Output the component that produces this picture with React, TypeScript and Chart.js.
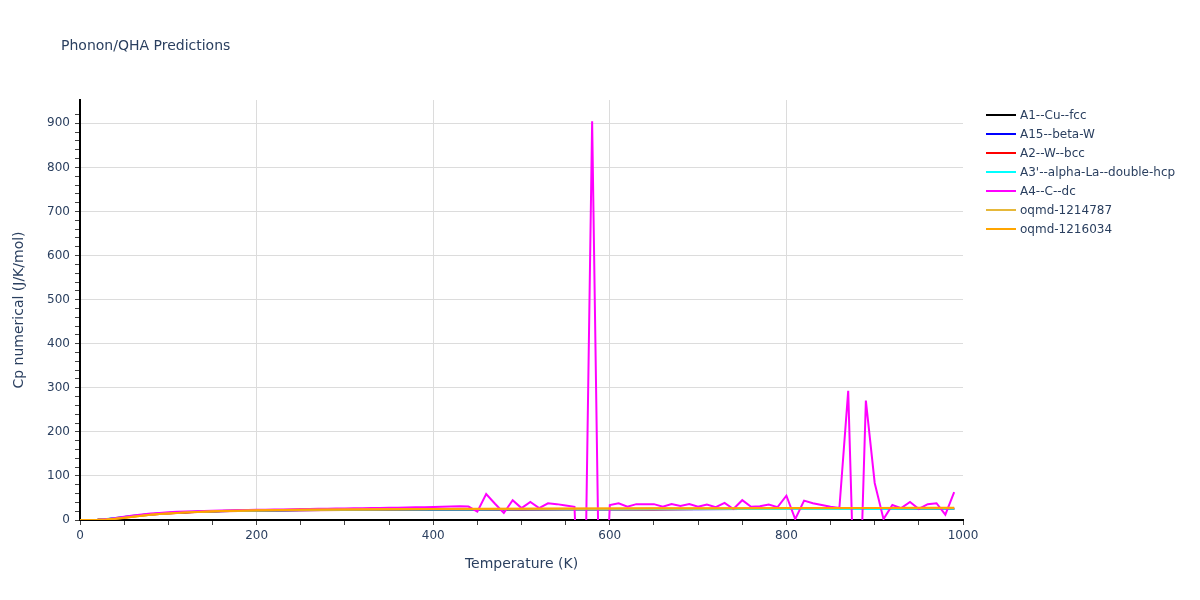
import React, { useEffect, useRef } from "react";
import { Chart, registerables } from "chart.js";

Chart.register(...registerables);

const chartTitle = "Phonon/QHA Predictions";
const xTitle = "Temperature (K)";
const yTitle = "Cp numerical (J/K/mol)";

const seriesNames = [
  "A1--Cu--fcc",
  "A15--beta-W",
  "A2--W--bcc",
  "A3'--alpha-La--double-hcp",
  "A4--C--dc",
  "oqmd-1214787",
  "oqmd-1216034",
];
const seriesColors = ["#000000", "#0000ff", "#ff0000", "#00ffff", "#ff00ff", "#e6b83a", "#ffa500"];

const smoothTemps = [0, 10, 20, 30, 40, 50, 60, 70, 80, 90, 100, 120, 140, 160, 180, 200, 250, 300, 350, 400, 450, 500, 550, 600, 650, 700, 750, 800, 850, 900, 950, 990];

const cuFcc = [0, 0.1, 0.6, 1.9, 4.1, 6.6, 9.0, 11.2, 13.0, 14.5, 15.8, 17.8, 19.2, 20.2, 20.9, 21.5, 22.5, 23.1, 23.5, 23.8, 24.0, 24.2, 24.4, 24.5, 24.6, 24.7, 24.8, 24.9, 25.0, 25.1, 25.2, 25.3];
const betaW = [0, 0.1, 0.5, 1.6, 3.6, 6.0, 8.4, 10.6, 12.5, 14.1, 15.4, 17.5, 19.0, 20.0, 20.8, 21.4, 22.4, 23.0, 23.4, 23.7, 23.9, 24.1, 24.3, 24.4, 24.5, 24.6, 24.7, 24.8, 24.9, 25.0, 25.1, 25.2];
const wBcc = [0, 0.1, 0.4, 1.4, 3.2, 5.5, 7.9, 10.2, 12.1, 13.7, 15.0, 17.2, 18.8, 19.9, 20.7, 21.3, 22.3, 22.9, 23.3, 23.6, 23.9, 24.1, 24.3, 24.4, 24.6, 24.7, 24.8, 24.9, 25.0, 25.1, 25.2, 25.3];
const laDhcp = [0, 0.1, 0.7, 2.1, 4.4, 7.0, 9.4, 11.5, 13.3, 14.8, 16.0, 18.0, 19.3, 20.3, 21.0, 21.6, 22.6, 23.2, 23.6, 23.9, 24.1, 24.3, 24.5, 24.6, 24.7, 24.8, 24.9, 25.0, 25.1, 25.2, 25.3, 25.4];
const oqmd1214787 = [0, 0.05, 0.3, 1.1, 2.8, 5.0, 7.5, 9.8, 11.9, 13.6, 15.0, 17.3, 19.0, 20.2, 21.1, 21.8, 23.0, 23.8, 24.3, 24.8, 25.1, 25.4, 25.7, 25.9, 26.1, 26.3, 26.5, 26.7, 26.9, 27.1, 27.3, 27.5];
const oqmd1216034 = [0, 0.05, 0.3, 1.0, 2.6, 4.8, 7.2, 9.6, 11.7, 13.5, 15.0, 17.3, 19.0, 20.3, 21.2, 21.9, 23.1, 23.9, 24.5, 25.0, 25.3, 25.6, 25.9, 26.1, 26.4, 26.6, 26.8, 27.0, 27.2, 27.4, 27.6, 27.8];

const dcTemps = [
  0, 10, 20, 30, 40, 50, 60, 70, 80, 90,
  100, 110, 120, 130, 140, 150, 160, 170, 180, 190,
  200, 210, 220, 230, 240, 250, 260, 270, 280, 290,
  300, 310, 320, 330, 340, 350, 360, 370, 380, 390,
  400, 410, 420, 430, 440, 450, 460, 470, 480, 490,
  500, 510, 520, 530, 540, 550, 560, 570, 580, 590,
  600, 610, 620, 630, 640, 650, 660, 670, 680, 690,
  700, 710, 720, 730, 740, 750, 760, 770, 780, 790,
  800, 810, 820, 830, 840, 850, 860, 870, 880, 890,
  900, 910, 920, 930, 940, 950, 960, 970, 980, 990,
];
const cDc = [
  0, 0.1, 0.6, 2.0, 4.5, 7.5, 10.2, 12.5, 14.5, 16.0,
  17.4, 18.5, 19.4, 20.1, 20.7, 21.2, 21.7, 22.1, 22.5, 22.9,
  23.2, 23.5, 23.8, 24.1, 24.4, 24.7, 25.0, 25.3, 25.6, 25.9,
  26.2, 26.5, 26.8, 27.1, 27.4, 27.7, 28.0, 28.3, 28.7, 29.1,
  29.5, 30.0, 30.5, 31.0, 30.5, 19, 59, 37, 16, 45,
  27, 41, 27, 38, 36, 33, 30, -450, 905, -450,
  34, 38, 30, 36, 36, 36, 30, 36, 32, 36,
  30, 35, 29, 39, 25, 45, 30, 31, 35, 29,
  55, 2, 44, 38, 34, 30, 27, 293, -400, 271,
  84, 2, 34, 27, 41, 25, 36, 38, 12, 63,
];

const xTicks = [0, 200, 400, 600, 800, 1000];
const yTicks = [0, 100, 200, 300, 400, 500, 600, 700, 800, 900];

const FONT = "'DejaVu Sans', Verdana, sans-serif";
const TEXT = "#2a3f5f";

function pts(xs: number[], ys: number[]) {
  return xs.map((x, i) => ({ x, y: ys[i] }));
}

export default function App() {
  const ref = useRef<HTMLCanvasElement | null>(null);

  useEffect(() => {
    document.body.style.margin = "0";
    const values = [cuFcc, betaW, wBcc, laDhcp, cDc, oqmd1214787, oqmd1216034];
    const datasets = seriesNames.map((name, i) => ({
      label: name,
      data: i === 4 ? pts(dcTemps, cDc) : pts(smoothTemps, values[i]),
      borderColor: seriesColors[i],
      backgroundColor: seriesColors[i],
      borderWidth: 2,
      pointRadius: 0,
      tension: 0,
      fill: false,
      order: seriesNames.length - i,
    }));
    const chart = new Chart(ref.current as HTMLCanvasElement, {
      type: "line",
      data: { datasets },
      options: {
        animation: false,
        responsive: false,
        maintainAspectRatio: false,
        layout: { padding: { left: 0, top: 100, right: 237, bottom: 0 } },
        plugins: { legend: { display: false }, title: { display: false }, tooltip: { enabled: false } },
        scales: {
          x: {
            type: "linear",
            min: 0,
            max: 1000,
            afterFit: (s: any) => { s.height = 80; },
            ticks: {
              stepSize: 50,
              autoSkip: false,
              maxRotation: 0,
              padding: 4,
              color: TEXT,
              font: { family: FONT, size: 12 },
              callback: (v: any) => (xTicks.includes(Number(v)) ? String(v) : ""),
            },
            grid: {
              color: (c: any) => {
                const v = c.tick ? c.tick.value : -1;
                return v % 200 === 0 && v !== 0 && v !== 1000 ? "#dcdcdc" : "rgba(0,0,0,0)";
              },
              tickColor: "#444",
              tickLength: 5,
              lineWidth: 1,
            },
            border: { display: true, color: "#000", width: 2 },
            title: {
              display: true,
              text: xTitle,
              color: TEXT,
              font: { family: FONT, size: 14 },
              padding: { top: 0, bottom: 27 },
            },
          },
          y: {
            type: "linear",
            min: 0,
            max: 953,
            afterFit: (s: any) => { s.width = 80; },
            afterBuildTicks: (s: any) => { s.ticks = s.ticks.filter((t: any) => t.value % 20 === 0); },
            ticks: {
              stepSize: 20,
              autoSkip: false,
              padding: 5,
              color: TEXT,
              font: { family: FONT, size: 12 },
              callback: (v: any) => (yTicks.includes(Number(v)) ? String(v) : ""),
            },
            grid: {
              color: (c: any) => {
                const v = c.tick ? c.tick.value : -1;
                return v % 100 === 0 && v !== 0 ? "#dcdcdc" : "rgba(0,0,0,0)";
              },
              tickColor: "#444",
              tickLength: 5,
              lineWidth: 1,
            },
            border: { display: true, color: "#000", width: 2 },
            title: {
              display: true,
              text: yTitle,
              color: TEXT,
              font: { family: FONT, size: 14 },
              padding: { top: 11, bottom: 0 },
            },
          },
        },
      },
    });
    return () => chart.destroy();
  }, []);

  return (
    <div style={{ position: "absolute", left: 0, top: 0, width: 1200, height: 600, background: "#fff", fontFamily: FONT }}>
      <canvas ref={ref} width={1200} height={600} style={{ position: "absolute", left: 0, top: 0 }} />
      <div style={{ position: "absolute", left: 61, top: 37, fontSize: 14, color: TEXT, whiteSpace: "nowrap" }}>{chartTitle}</div>
      <div style={{ position: "absolute", left: 986, top: 105 }}>
        {seriesNames.map((n, i) => (
          <div key={n} style={{ position: "absolute", left: 0, top: i * 19, height: 19, width: 210, display: "flex", alignItems: "center" }}>
            <span style={{ display: "inline-block", width: 30, height: 2, background: seriesColors[i] }} />
            <span style={{ marginLeft: 4, fontSize: 12, color: TEXT, whiteSpace: "nowrap" }}>{n}</span>
          </div>
        ))}
      </div>
    </div>
  );
}
